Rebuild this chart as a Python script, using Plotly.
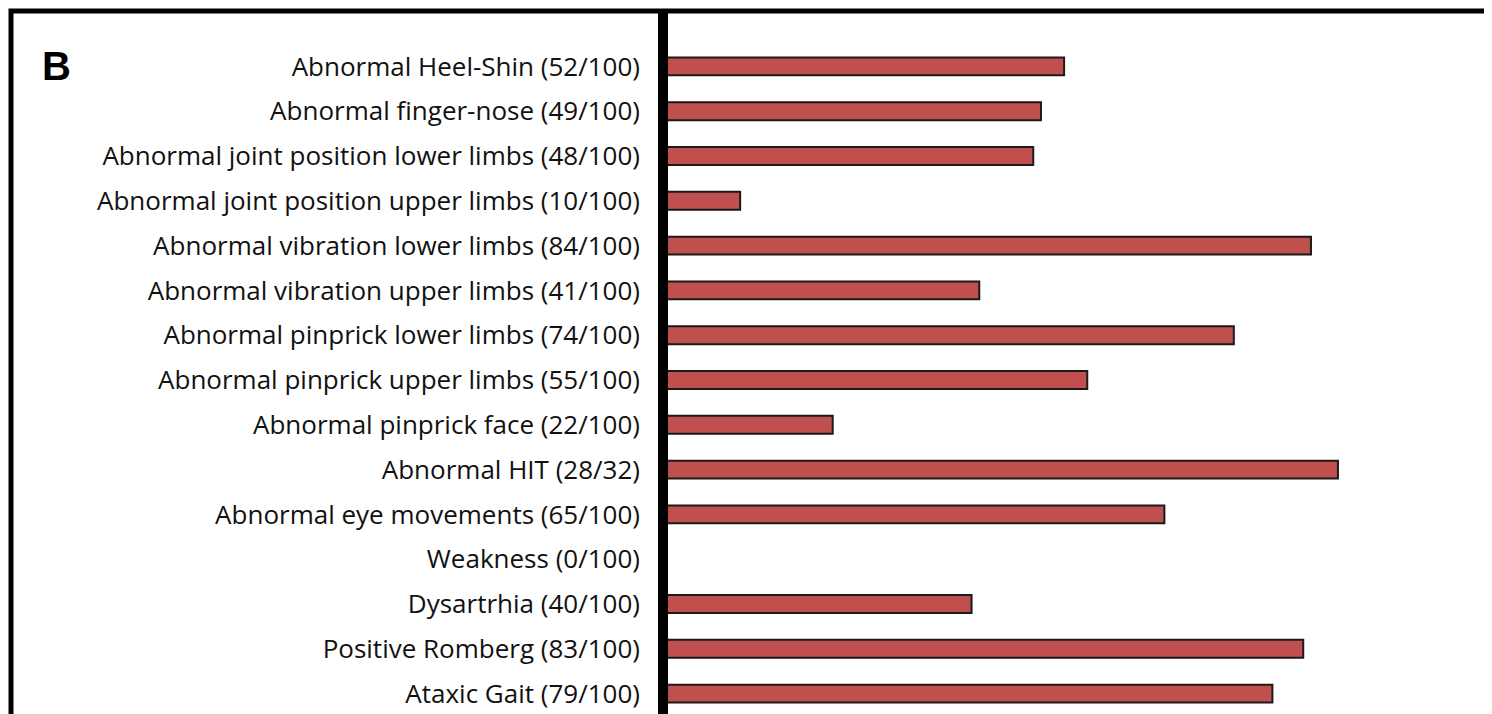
import plotly.graph_objects as go

labels = [
    "Abnormal Heel-Shin (52/100)",
    "Abnormal finger-nose (49/100)",
    "Abnormal joint position lower limbs (48/100)",
    "Abnormal joint position upper limbs (10/100)",
    "Abnormal vibration lower limbs (84/100)",
    "Abnormal vibration upper limbs (41/100)",
    "Abnormal pinprick lower limbs (74/100)",
    "Abnormal pinprick upper limbs (55/100)",
    "Abnormal pinprick face (22/100)",
    "Abnormal HIT (28/32)",
    "Abnormal eye movements (65/100)",
    "Weakness (0/100)",
    "Dysartrhia (40/100)",
    "Positive Romberg (83/100)",
    "Ataxic Gait (79/100)",
]
percent = [52, 49, 48, 10, 84, 41, 74, 55, 22, 87.5, 65, 0, 40, 83, 79]

L, R, T, B = 655, 7, 36, 6
W, H = 1492 - L - R, 714 - T - B

fig = go.Figure(go.Bar(
    x=percent, y=labels, orientation="h",
    marker=dict(color="#c0504d", line=dict(color="#1a1a1a", width=2)),
    width=0.4,
))

fig.update_layout(
    width=1492, height=714,
    margin=dict(l=L, r=R, t=T, b=B, autoexpand=False),
    paper_bgcolor="white", plot_bgcolor="white",
    showlegend=False,
    font=dict(family="Open Sans", size=26, color="#111"),
    xaxis=dict(range=[0, 107.6], visible=False, fixedrange=True),
    yaxis=dict(autorange=False, range=[14.5, -0.5], ticks="", ticklabelstandoff=22,
               showline=False, showgrid=False, automargin=False),
    shapes=[
        dict(type="rect", xref="paper", yref="paper",
             x0=(3 - L) / W, x1=(1488 - L) / W, y0=-3 / H, y1=(H + T - 3) / H,
             line=dict(color="black", width=5)),
        dict(type="line", xref="paper", yref="paper", x0=0, x1=0,
             y0=-3 / H, y1=(H + T - 3) / H,
             line=dict(color="black", width=10)),
    ],
    annotations=[dict(text="<b>B</b>", xref="paper", yref="paper",
                      x=(48 - L) / W, y=(H + T - 58) / H,
                      xanchor="center", yanchor="middle", showarrow=False,
                      font=dict(family="Liberation Sans", size=40, color="black"))],
)

fig.write_html("out.html")
